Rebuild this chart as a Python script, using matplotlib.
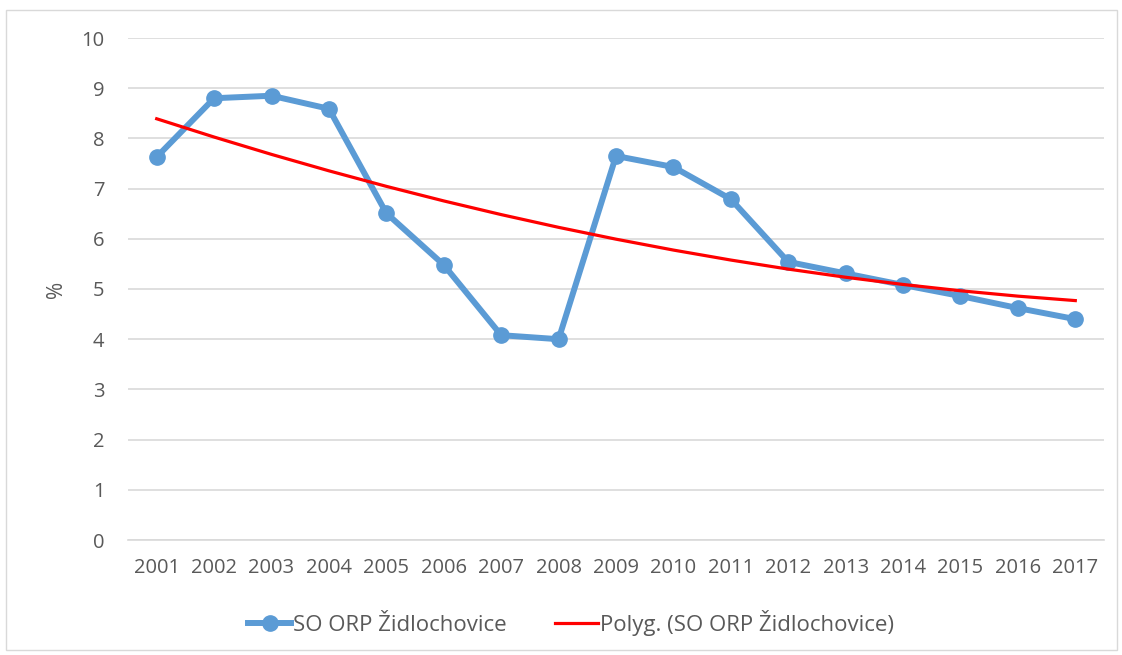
import numpy as np
import matplotlib.pyplot as plt
from matplotlib.patches import Rectangle

plt.rcParams['font.family'] = ['Open Sans', 'DejaVu Sans']

years = ['2001', '2002', '2003', '2004', '2005', '2006', '2007', '2008', '2009',
         '2010', '2011', '2012', '2013', '2014', '2015', '2016', '2017']
values = [7.63, 8.80, 8.85, 8.59, 6.51, 5.48, 4.08, 4.00, 7.65,
          7.43, 6.79, 5.54, 5.31, 5.08, 4.86, 4.62, 4.40]
series_name = 'SO ORP Židlochovice'

x = np.arange(len(years))
# polynomial trendline (2nd order), like Excel's "Polyg."
coef = np.polyfit(x + 1, values, 2)
trend = np.polyval(coef, x + 1)

fig = plt.figure(figsize=(11.22, 6.55), dpi=100)
fig.patches.append(Rectangle((6 / 1122, 5 / 655), 1111 / 1122, 640 / 655,
                             transform=fig.transFigure, fill=False,
                             edgecolor='#d9d9d9', lw=1))
ax = fig.add_axes([128 / 1122, 1 - 540 / 655, 976 / 1122, 502 / 655])

ax.plot(x, values, '-o', color='#5b9bd5', lw=4.3, ms=11, label=series_name, zorder=3)
ax.plot(x, trend, '-', color='#ff0000', lw=2.3, label='Polyg. (' + series_name + ')', zorder=4)

ax.set_xlim(-0.5, len(years) - 0.5)
ax.set_ylim(0, 10)
ax.set_yticks(range(0, 11))
ax.set_xticks(x)
ax.set_xticklabels(years)
ax.grid(axis='y', color='#d9d9d9', lw=1.2)
ax.set_axisbelow(True)
for s in ['top', 'right', 'left']:
    ax.spines[s].set_visible(False)
ax.spines['bottom'].set_color('#d9d9d9')
ax.spines['bottom'].set_linewidth(1.2)
ax.tick_params(length=0, labelsize=14.5, colors='#595959')
ax.tick_params(axis='x', pad=13)
ax.tick_params(axis='y', pad=17)
ax.set_ylabel('%', fontsize=15, color='#595959', labelpad=10)

ax.legend(loc='center', bbox_to_anchor=(0.454, -0.165), ncol=2, frameon=False,
          fontsize=16, labelcolor='#595959', handlelength=1.9, columnspacing=2.2,
          handletextpad=0.1)

fig.savefig('out.png', dpi=100)
